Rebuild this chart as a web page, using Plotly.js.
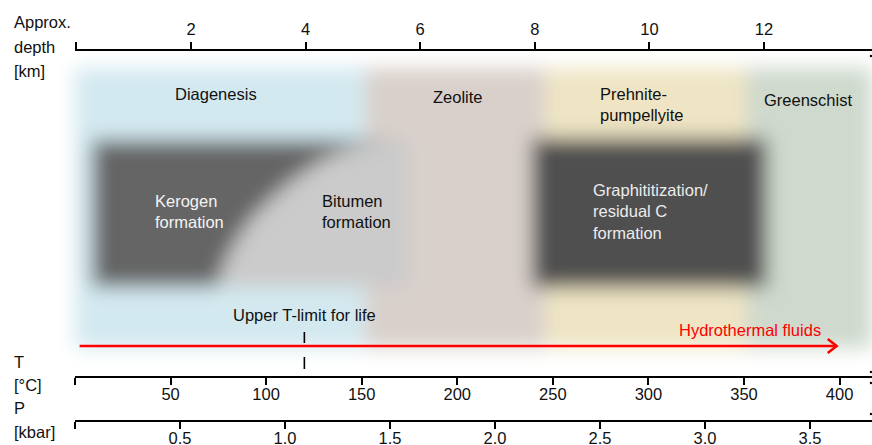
<!DOCTYPE html>
<html><head><meta charset="utf-8">
<script src="https://cdn.plot.ly/plotly-3.0.1.min.js"></script>
<style>html,body{margin:0;padding:0;background:#fff}#chart{width:872px;height:445px}</style>
</head><body><div id="chart"></div>
<script>
// ---------------- Data ----------------
// Metamorphic / diagenetic zones along the temperature axis (°C)
const zoneNames    = ['Diagenesis', 'Zeolite', 'Prehnite-<br>pumpellyite', 'Greenschist'];
const zoneTempMin  = [-8, 152, 246, 351];
const zoneTempMax  = [152, 246, 351, 425];
// Organic-matter processes (°C)
const kerogenBitumenTemp = [9, 175];          // extent of kerogen + bitumen field
const kerogenEdgeTemp = [170, 157, 143, 129, 115.4, 103.4, 92.9, 85.1, 78.8, 74.1]; // S-shaped kerogen/bitumen boundary, top to bottom
const graphiteTemp = [239, 362];              // graphititization / residual C
const lifeLimitTemp = 120;                    // upper T-limit for life
const hydrothermalTemp = [2.4, 398.5];        // hydrothermal fluids arrow
// Axes
const depthTicks = [0, 2, 4, 6, 8, 10, 12];
const depthTickText = ['', '2', '4', '6', '8', '10', '12'];
const tempTicks = [0, 50, 100, 150, 200, 250, 300, 350, 400];
const tempTickText = ['', '50', '100', '150', '200', '250', '300', '350', '400'];
const pressureTicks = [0, 0.5, 1.0, 1.5, 2.0, 2.5, 3.0, 3.5];
const pressureTickText = ['', '0.5', '1.0', '1.5', '2.0', '2.5', '3.0', '3.5'];

// ---------------- Layout helpers (pixel frame) ----------------
const W = 872, H = 445, ML = 75, MT = 50, MB = 24;
const PW = W - ML, PH = H - MT - MB;
const px = x => (x - ML) / PW;            // paper x from pixel
const py = y => (H - MB - y) / PH;        // paper y from pixel
const FONT = 'Liberation Sans, Arial, sans-serif';
const FS = 16.5;

const zoneColors = ['#d3e9f0', '#d9d0cb', '#efe5c4', '#cfd9cd'];
const zoneY = [68, 348];
const boxY = [140, 287];
const kerogenEdgeY = [140, 142, 148, 160, 178, 197, 217, 238, 260, 287];

const shapes = [];
zoneNames.forEach((n, i) => shapes.push({type: 'rect', xref: 'x', yref: 'y', layer: 'below',
  x0: zoneTempMin[i], x1: zoneTempMax[i], y0: zoneY[0], y1: zoneY[1],
  fillcolor: zoneColors[i], line: {width: 0}}));
shapes.push({type: 'rect', xref: 'x', yref: 'y', layer: 'below',
  x0: kerogenBitumenTemp[0], x1: kerogenBitumenTemp[1], y0: boxY[0], y1: boxY[1],
  fillcolor: '#cbcbcb', line: {width: 0}});
let kp = 'M' + kerogenBitumenTemp[0] + ',' + boxY[0];
kerogenEdgeTemp.forEach((t, i) => { kp += ' L' + t + ',' + kerogenEdgeY[i]; });
kp += ' L' + kerogenBitumenTemp[0] + ',' + boxY[1] + ' Z';
shapes.push({type: 'path', xref: 'x', yref: 'y', layer: 'below', path: kp,
  fillcolor: '#656565', line: {width: 0}});
shapes.push({type: 'rect', xref: 'x', yref: 'y', layer: 'below',
  x0: graphiteTemp[0], x1: graphiteTemp[1], y0: 138, y1: 288,
  fillcolor: '#505050', line: {width: 0}});

// arrow
const arrowY = 346;
const headDT = 4.7;
const edgeT = (871 - ML) / 1.9114;
const traces = [
  {x: hydrothermalTemp, y: [arrowY, arrowY], mode: 'lines', line: {color: '#ff0000', width: 2.5}, hoverinfo: 'skip', showlegend: false},
  {x: [hydrothermalTemp[1] - headDT, hydrothermalTemp[1], hydrothermalTemp[1] - headDT], y: [arrowY - 7, arrowY, arrowY + 7],
   mode: 'lines', line: {color: '#ff0000', width: 2.5}, hoverinfo: 'skip', showlegend: false},
  {x: [lifeLimitTemp, lifeLimitTemp, null, lifeLimitTemp, lifeLimitTemp], y: [332, 343, null, 357, 369],
   mode: 'lines', line: {color: '#000', width: 1.6}, hoverinfo: 'skip', showlegend: false},
  {x: [edgeT, edgeT, edgeT, edgeT, edgeT, edgeT], y: [45, 56, 372, 383, 414, 427], mode: 'markers', cliponaxis: false,
   marker: {size: 2.5, color: '#000'}, hoverinfo: 'skip', showlegend: false},
  {x: [], y: [], xaxis: 'x2', yaxis: 'y', showlegend: false},
  {x: [], y: [], xaxis: 'x3', yaxis: 'y', showlegend: false}
];

const ann = [];
function label(text, xp, yp, opt = {}) {
  ann.push(Object.assign({text, x: px(xp), y: py(yp), xref: 'paper', yref: 'paper', showarrow: false,
    xanchor: 'center', yanchor: 'middle', align: 'left',
    font: {family: FONT, size: FS, color: '#111'}}, opt));
}
const zoneLabelPos = [[216, 94, 'center'], [458, 97, 'center'], [598, 104, 'left'], [808, 100, 'center']];
zoneNames.forEach((n, i) => label(n, zoneLabelPos[i][0], zoneLabelPos[i][1], {xanchor: zoneLabelPos[i][2]}));
label('Kerogen<br>formation', 153, 211, {xanchor: 'left', font: {family: FONT, size: FS, color: '#f4f4f4'}});
label('Bitumen<br>formation', 320, 211, {xanchor: 'left'});
label('Graphititization/<br>residual C<br>formation', 591, 211, {xanchor: 'left', font: {family: FONT, size: FS, color: '#ececec'}});
label('Upper T-limit for life', 304, 315);
label('Hydrothermal fluids', 750, 330, {font: {family: FONT, size: FS, color: '#ff0000'}});
[['Approx.', 22], ['depth', 47], ['[km]', 71], ['T', 362], ['[°C]', 385], ['P', 408], ['[kbar]', 432]]
  .forEach(([t, y]) => label(t, 12, y, {xanchor: 'left'}));

const axBase = {showline: true, linecolor: '#000', linewidth: 2, ticks: 'outside', ticklen: 7, tickwidth: 2,
  tickcolor: '#000', showgrid: false, zeroline: false, tickmode: 'array', fixedrange: true,
  tickfont: {family: FONT, size: FS, color: '#111'}};

const layout = {
  width: W, height: H, margin: {l: ML, r: 0, t: MT, b: MB, pad: 0},
  paper_bgcolor: '#fff', plot_bgcolor: '#fff', showlegend: false,
  font: {family: FONT, size: FS, color: '#111'},
  xaxis: Object.assign({}, axBase, {domain: [0, 1], range: [0, PW / 1.9114], anchor: 'free', position: py(377), side: 'bottom',
    tickvals: tempTicks, ticktext: tempTickText, ticklabelstandoff: -5}),
  xaxis2: Object.assign({}, axBase, {overlaying: 'x', range: [-1.4 / 57.3, (PW - 1.4) / 57.3], anchor: 'free', position: 1, side: 'top',
    tickvals: depthTicks, ticktext: depthTickText}),
  xaxis3: Object.assign({}, axBase, {overlaying: 'x', range: [0, PW / 210], anchor: 'free', position: 0, side: 'bottom',
    tickvals: pressureTicks, ticktext: pressureTickText, ticklabelstandoff: -5}),
  yaxis: {range: [H - MB, MT], visible: false, domain: [0, 1], fixedrange: true},
  shapes, annotations: ann
};

const gd = document.getElementById('chart');
Plotly.newPlot(gd, traces, layout, {displayModeBar: false, staticPlot: true}).then(() => {
  const ns = 'http://www.w3.org/2000/svg';
  const svg = gd.querySelector('.main-svg');
  let defs = svg.querySelector('defs');
  if (!defs) { defs = document.createElementNS(ns, 'defs'); svg.insertBefore(defs, svg.firstChild); }
  const f = document.createElementNS(ns, 'filter');
  f.setAttribute('id', 'softblur');
  f.setAttribute('filterUnits', 'userSpaceOnUse');
  f.setAttribute('x', '-200'); f.setAttribute('y', '-200');
  f.setAttribute('width', '1400'); f.setAttribute('height', '900');
  const b = document.createElementNS(ns, 'feGaussianBlur');
  b.setAttribute('stdDeviation', '9.5');
  f.appendChild(b); defs.appendChild(f);
  gd.querySelectorAll('.shapelayer').forEach(g => {
    if (g.closest('.layer-above')) return;
    g.setAttribute('filter', 'url(#softblur)');
    g.querySelectorAll('path').forEach(p => { p.removeAttribute('clip-path'); p.style.clipPath = ''; });
  });
});
</script></body></html>
